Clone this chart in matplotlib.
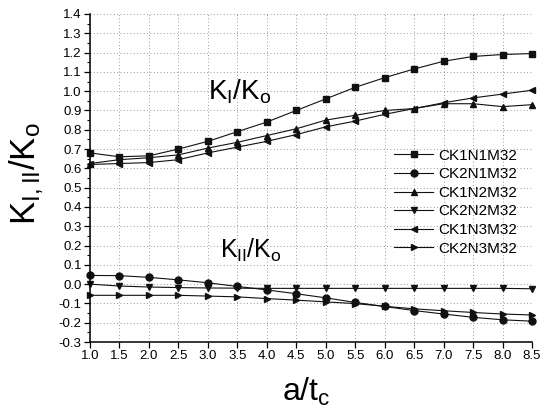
import matplotlib
matplotlib.use('Agg')
import matplotlib.pyplot as plt
from matplotlib.ticker import MultipleLocator

plt.rcParams['font.family'] = ['Liberation Sans', 'DejaVu Sans']
plt.rcParams['mathtext.fontset'] = 'custom'
plt.rcParams['mathtext.rm'] = 'Liberation Sans'
plt.rcParams['mathtext.it'] = 'Liberation Sans'
plt.rcParams['axes.unicode_minus'] = False

# a/t_c values
a_tc = [1.0, 1.5, 2.0, 2.5, 3.0, 3.5, 4.0, 4.5, 5.0, 5.5, 6.0, 6.5, 7.0, 7.5, 8.0, 8.5]

# K_I / K_o curves
ck1n1m32 = [0.68, 0.66, 0.665, 0.70, 0.74, 0.79, 0.84, 0.90, 0.96, 1.02, 1.07, 1.115, 1.155, 1.18, 1.19, 1.195]
ck1n2m32 = [0.625, 0.645, 0.655, 0.67, 0.705, 0.735, 0.77, 0.805, 0.85, 0.875, 0.90, 0.91, 0.935, 0.935, 0.92, 0.93]
ck1n3m32 = [0.62, 0.625, 0.63, 0.645, 0.68, 0.71, 0.74, 0.775, 0.815, 0.845, 0.88, 0.91, 0.94, 0.965, 0.985, 1.005]

# K_II / K_o curves
ck2n1m32 = [0.045, 0.044, 0.035, 0.022, 0.007, -0.012, -0.03, -0.05, -0.071, -0.095, -0.116, -0.137, -0.155, -0.172, -0.185, -0.192]
ck2n2m32 = [0.0, -0.01, -0.015, -0.018, -0.02, -0.021, -0.022, -0.022, -0.022, -0.022, -0.022, -0.022, -0.022, -0.022, -0.022, -0.024]
ck2n3m32 = [-0.058, -0.058, -0.058, -0.058, -0.062, -0.066, -0.075, -0.083, -0.092, -0.101, -0.115, -0.128, -0.138, -0.147, -0.155, -0.16]

series = [
    ('CK1N1M32', ck1n1m32, 's'),
    ('CK2N1M32', ck2n1m32, 'o'),
    ('CK1N2M32', ck1n2m32, '^'),
    ('CK2N2M32', ck2n2m32, 'v'),
    ('CK1N3M32', ck1n3m32, '<'),
    ('CK2N3M32', ck2n3m32, '>'),
]

fig = plt.figure(figsize=(5.52, 4.19), dpi=100)
ax = fig.add_axes([90 / 552, 1 - 342 / 419, 442 / 552, 328 / 419])

for name, vals, mk in series:
    ax.plot(a_tc, vals, color='#111111', lw=0.8, marker=mk, ms=5,
            label=name, clip_on=False)

ax.set_xlim(1.0, 8.5)
ax.set_ylim(-0.3, 1.4)
ax.xaxis.set_major_locator(MultipleLocator(0.5))
ax.yaxis.set_major_locator(MultipleLocator(0.1))
ax.yaxis.set_minor_locator(MultipleLocator(0.05))
ax.xaxis.set_major_formatter(matplotlib.ticker.FormatStrFormatter('%.1f'))
ax.yaxis.set_major_formatter(matplotlib.ticker.FormatStrFormatter('%.1f'))
ax.tick_params(axis='both', which='major', direction='out', length=4, width=0.9,
               labelsize=9.5, pad=2)
ax.tick_params(axis='y', which='minor', direction='out', length=2, width=0.8)

for s in ['top', 'right']:
    ax.spines[s].set_visible(False)
for s in ['left', 'bottom']:
    ax.spines[s].set_linewidth(1.1)

ax.grid(True, which='major', linestyle=(0, (1, 3)), color='#777777', lw=0.6)

ax.text(3.0, 0.955, r'$\mathregular{K_I/K_o}$', fontsize=20)
ax.text(3.2, 0.135, r'$\mathregular{K_{II}/K_o}$', fontsize=18)

fig.text(306 / 552, 1 - 392 / 419, r'$\mathregular{a/t_c}$', fontsize=23,
         ha='center', va='center')
fig.text(27 / 552, 1 - 174 / 419, r'$\mathregular{K_{I,II}/K_o}$', fontsize=25,
         ha='center', va='center', rotation=90)

ax.legend(loc='upper left', bbox_to_anchor=(383 / 552, 1 - 138 / 419),
          bbox_transform=fig.transFigure, frameon=False, fontsize=11,
          numpoints=1, handlelength=2.6, handletextpad=0.3, labelspacing=0.3,
          borderpad=0.2)

fig.savefig('out.png', dpi=100)
